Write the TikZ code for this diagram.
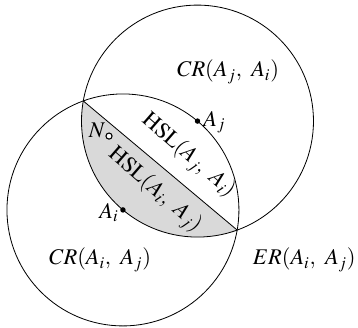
\documentclass[tikz,border=0pt]{standalone}
\usepackage{mathptmx}
\usepackage{tikz}
\usetikzlibrary{positioning}

\begin{document}
\begin{tikzpicture}[
  dot/.style={circle, fill, inner sep=0pt, minimum size=4pt},
  hollow/.style={circle, draw, fill=white, inner sep=0pt, minimum size=4.5pt, line width=0.8pt},
  lbl/.style={font=\fontsize{16.5}{20}\selectfont, inner sep=1pt},
  halfplane/.style={lbl, rotate=-41, inner sep=0pt}
]
\useasboundingbox (-3.18,-3.05) rectangle (6.08,5.43);

% agents and the two comm. ranges
\coordinate (ai) at (0,0);
\coordinate (aj) at (50:3);
\coordinate (p1) at (110:3);
\coordinate (p2) at (-10:3);

\fill[black!15] (p1) arc[start angle=170, end angle=290, radius=3] -- cycle;
\draw[line width=0.6pt] (ai) circle[radius=3];
\draw[line width=0.6pt] (aj) circle[radius=3];
\draw[line width=0.6pt] (p1) -- (p2);

\node[dot] (dai) at (ai) {};
\node[dot] (daj) at (aj) {};
\node[hollow] (n) at (-0.36,1.91) {};

\node[lbl, left=0pt of dai, yshift=-2pt] {$A_i$};
\node[lbl, right=1pt of daj, yshift=-1pt] {$A_j$};
\node[lbl, left=-1pt of n, yshift=4pt] {$N$};

\node[halfplane] (hslj) at (1.69,1.40) {$\mathrm{HSL}(A_j,\ A_i)$};
\node[halfplane] (hsli) at (0.82,0.51) {$\mathrm{HSL}(A_i,\ A_j)$};

\node[lbl] (crj) at (2.72,3.57) {$CR(A_j,\ A_i)$};
\node[lbl] (cri) at (-0.59,-1.29) {$CR(A_i,\ A_j)$};
\node[lbl, anchor=east] (er) at (6.06,-1.29) {$ER(A_i,\ A_j)$};
\end{tikzpicture}
\end{document}
